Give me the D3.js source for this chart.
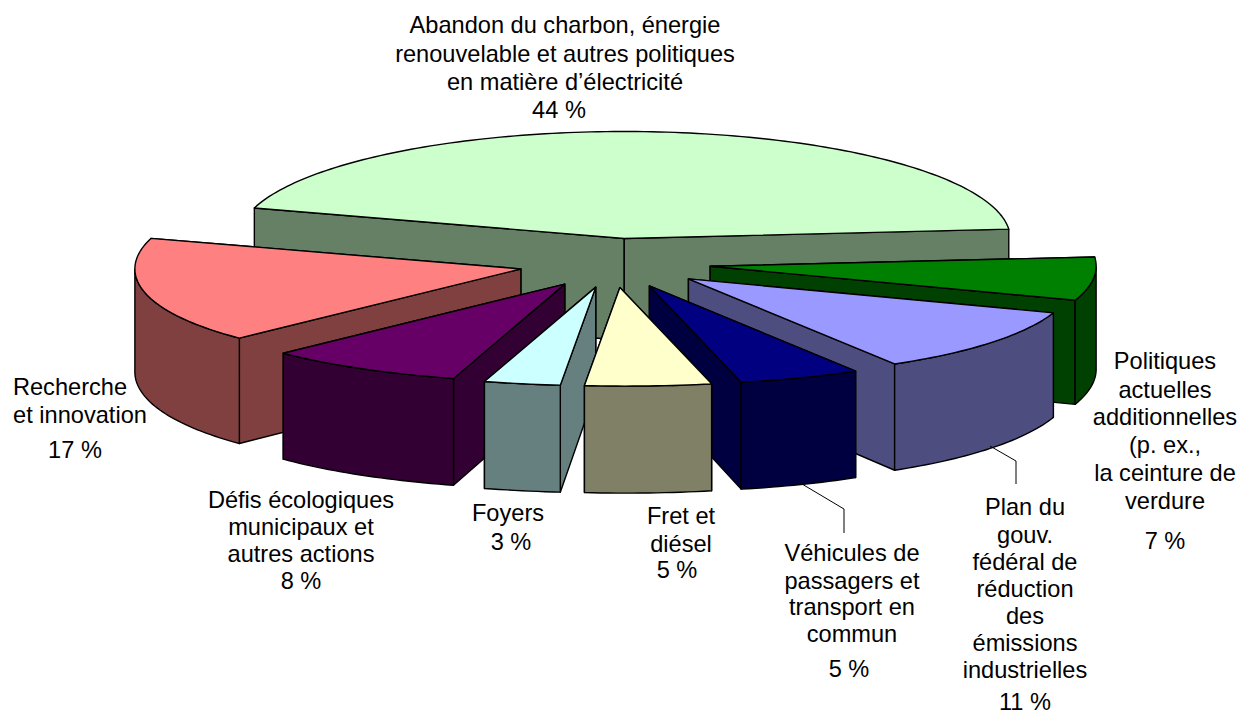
<!DOCTYPE html>
<html><head><meta charset="utf-8">
<script src="https://cdnjs.cloudflare.com/ajax/libs/d3/7.8.5/d3.min.js"></script>
<style>html,body{margin:0;padding:0;background:#fff}svg{display:block}text{font-family:"Liberation Sans",Arial,sans-serif;font-size:23.6px;fill:#000}</style>
</head><body><svg id="c" width="1242" height="711"></svg>
<script>
const categories = ["Abandon du charbon, énergie renouvelable et autres politiques en matière d’électricité","Politiques actuelles additionnelles (p. ex., la ceinture de verdure","Plan du gouv. fédéral de réduction des émissions industrielles","Véhicules de passagers et transport en commun","Fret et diésel","Foyers","Défis écologiques municipaux et autres actions","Recherche et innovation"];
const values = [44,7,11,5,5,3,8,17];
const topColors = ["#CCFFCC","#008000","#9999FF","#000080","#FFFFCC","#CCFFFF","#660066","#FF8080"];
const wallColors = ["#668066","#004000","#4D4D80","#000040","#808066","#668080","#330033","#804040"];
const labelLines = [
 ["Abandon du charbon, énergie","renouvelable et autres politiques","en matière d’électricité","44 %"],
 ["Politiques","actuelles","additionnelles","(p. ex.,","la ceinture de","verdure","7 %"],
 ["Plan du","gouv.","fédéral de","réduction","des","émissions","industrielles","11 %"],
 ["Véhicules de","passagers et","transport en","commun","5 %"],
 ["Fret et","diésel","5 %"],
 ["Foyers","3 %"],
 ["Défis écologiques","municipaux et","autres actions","8 %"],
 ["Recherche","et innovation","17 %"]
];
const labelX = [[565,565,565,559],1165,1025,[852,852,852,852,849],[681,681,677],[508,511],301,[70,80,75]];
const labelY = [
 [25,54,82,110],[361,390,417,445,473,501,541],[507,535,562,589,616,643,670,702],
 [553,581,607,634,669],[516,544,570],[513,542],[500,527,554,581],[387,415,450]
];
const leaders = [
 {from:[990,446],mid:[1016,461],to:[1016,484]},
 {from:[802,484],mid:[844,509],to:[844,533]}
];

const svg=d3.select("#c");
const cx=614.5, cy=263, rx=386, ryFront=98.5, ryBack=107, explode=0.25, skew=6, widen=0.06;
const startAngle=-73.4*Math.PI/180;
const pie=d3.pie().sort(null).startAngle(startAngle).endAngle(startAngle+2*Math.PI);
const arcs=pie(values);
const X=d3.scaleLinear().domain([-1,1]).range([-rx,rx]);
const Yfront=d3.scaleLinear().domain([0,1]).range([0,ryFront]);
const Yback=d3.scaleLinear().domain([0,1]).range([0,ryBack]);
const depthAt=d3.scaleLinear().domain([239,385]).range([102,107]);
const pt=(a,o)=>{const c=Math.cos(a),s=Math.sin(a);
 const near=c<0?-c:0;
 return [o[0]+X(s)*(1+widen*near*near)+skew*near*near*near*near,o[1]+(c>0?-Yback(c):Yfront(-c))];};
const line=d3.line();
const down=p=>[p[0],p[1]+depthAt(p[1])];

const slices=arcs.map((d,i)=>{
 const m=(d.startAngle+d.endAngle)/2;
 const o=[cx+X(Math.sin(m))*explode,cy-Yfront(Math.cos(m))*explode];
 const n=Math.max(4,Math.ceil((d.endAngle-d.startAngle)/0.02));
 const angs=d3.range(n+1).map(k=>d.startAngle+(d.endAngle-d.startAngle)*k/n);
 return {i,d,m,o,angs,rim:angs.map(a=>pt(a,o))};
});
// paint from the back of the picture to the front
const order=slices.slice().sort((a,b)=>(a.o[1]+Yfront(-Math.cos(a.m))*0.6)-(b.o[1]+Yfront(-Math.cos(b.m))*0.6));
const g=svg.append("g").attr("stroke","#000").attr("stroke-width",1.4).attr("stroke-linejoin","round");
order.forEach(s=>{
 const S=s.rim[0],E=s.rim[s.rim.length-1],A=s.o;
 const walls=[[A,S,down(S),down(A)],[A,E,down(E),down(A)]];
 walls.sort((p,q)=>(p[1][1])-(q[1][1]));
 walls.forEach(w=>g.append("path").attr("d",line(w)+"Z").attr("fill",wallColors[s.i]));
 const front=s.rim.filter((p,k)=>Math.cos(s.angs[k])<=0);
 if(front.length>1){
  const poly=front.concat(front.slice().reverse().map(down));
  g.append("path").attr("d",line(poly)+"Z").attr("fill",wallColors[s.i]);
 }
 g.append("path").attr("d",line([A].concat(s.rim))+"Z").attr("fill",topColors[s.i]);
});
svg.append("g").attr("fill","none").attr("stroke","#000").attr("stroke-width",1).selectAll("path")
 .data(leaders).join("path").attr("d",d=>line([d.from,d.mid,d.to]));
labelLines.forEach((ls,i)=>{
 const t=svg.append("text").attr("text-anchor","middle").attr("aria-label",categories[i]);
 ls.forEach((l,k)=>t.append("tspan").attr("x",Array.isArray(labelX[i])?labelX[i][k]:labelX[i]).attr("y",labelY[i][k]).attr("dy","0.35em").text(l));
});
</script></body></html>
